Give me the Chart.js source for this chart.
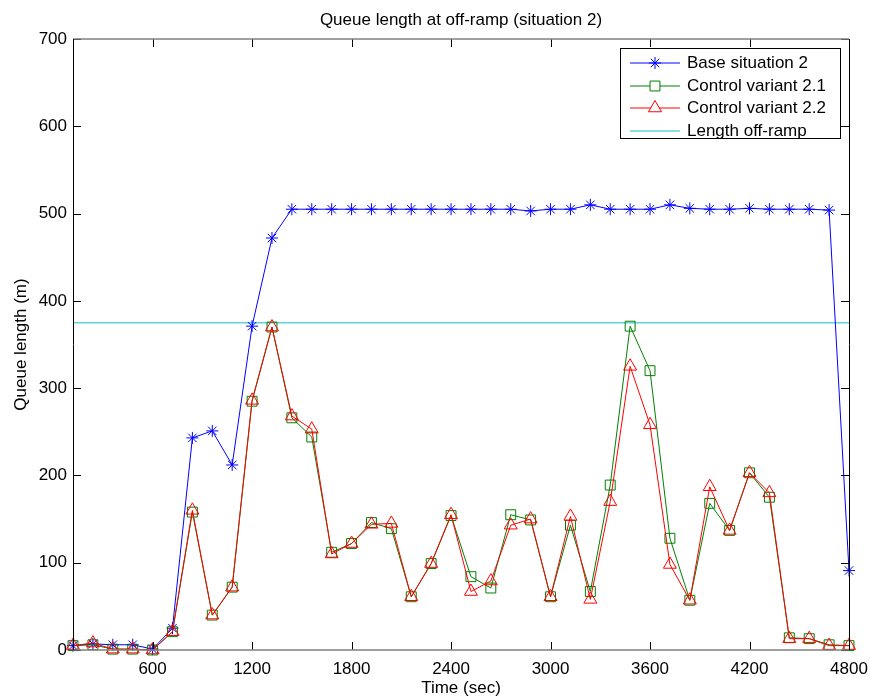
<!DOCTYPE html>
<html>
<head>
<meta charset="utf-8">
<title>Queue length at off-ramp (situation 2)</title>
<script src="https://cdn.jsdelivr.net/npm/chart.js@4/dist/chart.umd.min.js"></script>
<style>
  html, body { margin: 0; padding: 0; background: #fff; }
  #wrap { width: 870px; height: 698px; position: relative; }
</style>
</head>
<body>
<div id="wrap"><canvas id="queueChart"></canvas></div>
<script>
// Data (time in sec, queue length in m)
const times = [120, 240, 360, 480, 600, 720, 840, 960, 1080, 1200,
               1320, 1440, 1560, 1680, 1800, 1920, 2040, 2160, 2280, 2400,
               2520, 2640, 2760, 2880, 3000, 3120, 3240, 3360, 3480, 3600,
               3720, 3840, 3960, 4080, 4200, 4320, 4440, 4560, 4680, 4800];

const baseSituation = [5, 7, 6, 6, 1, 25, 243, 251, 212, 371,
                       472, 505, 505, 505, 505, 505, 505, 505, 505, 505,
                       505, 505, 505, 503, 505, 505, 510, 505, 505, 505,
                       510, 506, 505, 505, 506, 505, 505, 505, 504, 91];

const controlVariant21 = [5, 6, 1, 1, 0, 21, 158, 40, 72, 285,
                          370, 266, 244, 112, 122, 146, 139, 61, 99, 154,
                          84, 71, 155, 149, 61, 143, 67, 189, 371, 320,
                          128, 57, 168, 137, 203, 175, 14, 13, 6, 5];

const controlVariant22 = [5, 8, 1, 1, 0, 21, 160, 40, 72, 286,
                          370, 268, 253, 110, 122, 144, 145, 61, 99, 155,
                          67, 79, 143, 150, 61, 153, 58, 170, 325, 258,
                          98, 57, 187, 137, 203, 180, 13, 13, 5, 5];

const offRampLength = 375;

const seriesLabels = ['Base situation 2', 'Control variant 2.1', 'Control variant 2.2', 'Length off-ramp'];
const xTicks = [600, 1200, 1800, 2400, 3000, 3600, 4200, 4800];

const FONT = '"Liberation Sans", Arial, sans-serif';

function toPoints(values) {
    return values.map(function(v, i) { return { x: times[i], y: v }; });
}

// MATLAB-like box with inward ticks, titles and an in-axes legend
const matlabFrame = {
    id: 'matlabFrame',
    afterDraw: function(chart) {
        const ctx = chart.ctx;
        const a = chart.chartArea;
        const xs = chart.scales.x;
        const ys = chart.scales.y;
        const tl = 8;
        ctx.save();

        // tick marks
        ctx.lineWidth = 1;
        ctx.strokeStyle = '#000';
        ctx.beginPath();
        xs.ticks.forEach(function(t) {
            const px = Math.round(xs.getPixelForValue(t.value)) + 0.5;
            ctx.moveTo(px, a.bottom); ctx.lineTo(px, a.bottom - tl);
            ctx.moveTo(px, a.top); ctx.lineTo(px, a.top + tl);
        });
        ys.ticks.forEach(function(t) {
            const py = Math.round(ys.getPixelForValue(t.value)) + 0.5;
            ctx.moveTo(a.left, py); ctx.lineTo(a.left + tl, py);
            ctx.moveTo(a.right, py); ctx.lineTo(a.right - tl, py);
        });
        ctx.stroke();

        // box
        ctx.strokeStyle = '#808080';
        ctx.lineWidth = 1.5;
        ctx.beginPath();
        ctx.moveTo(a.left, a.top); ctx.lineTo(a.right, a.top);
        ctx.moveTo(a.left, a.bottom); ctx.lineTo(a.right, a.bottom);
        ctx.stroke();
        ctx.strokeStyle = '#000';
        ctx.lineWidth = 1;
        ctx.beginPath();
        ctx.moveTo(Math.round(a.left) + 0.5, a.top); ctx.lineTo(Math.round(a.left) + 0.5, a.bottom);
        ctx.moveTo(Math.round(a.right) + 0.5, a.top); ctx.lineTo(Math.round(a.right) + 0.5, a.bottom);
        ctx.stroke();

        // titles
        const cx = (a.left + a.right) / 2;
        ctx.fillStyle = '#000';
        ctx.font = '17px ' + FONT;
        ctx.textAlign = 'center';
        ctx.textBaseline = 'middle';
        ctx.fillText('Queue length at off-ramp (situation 2)', cx, 20);
        ctx.fillText('Time (sec)', cx, 688);
        ctx.save();
        ctx.translate(21, (a.top + a.bottom) / 2);
        ctx.rotate(-Math.PI / 2);
        ctx.fillText('Queue length (m)', 0, 0);
        ctx.restore();

        // legend
        const lx = 620.5, ly = 48.5, lw = 220, lh = 90;
        ctx.fillStyle = '#fff';
        ctx.fillRect(lx, ly, lw, lh);
        ctx.strokeStyle = '#000';
        ctx.lineWidth = 1;
        ctx.strokeRect(lx, ly, lw, lh);
        const rowY = [63, 86, 108, 131];
        chart.data.datasets.forEach(function(ds, i) {
            const y = rowY[i];
            ctx.strokeStyle = ds.borderColor;
            ctx.lineWidth = ds.borderWidth;
            ctx.beginPath();
            ctx.moveTo(630, y); ctx.lineTo(680, y);
            ctx.stroke();
            if (ds.pointStyle && ds.pointRadius > 0) {
                ctx.fillStyle = '#fff';
                ctx.lineWidth = 1;
                Chart.helpers.drawPoint(ctx, {
                    pointStyle: ds.pointStyle,
                    radius: ds.pointRadius,
                    borderWidth: 1,
                    rotation: 0
                }, 655, y);
            }
            ctx.fillStyle = '#000';
            ctx.textAlign = 'left';
            ctx.textBaseline = 'middle';
            ctx.font = '17px ' + FONT;
            ctx.fillText(ds.label, 687, y);
        });
        ctx.restore();
    }
};

document.addEventListener('DOMContentLoaded', function() {
    const ctx = document.getElementById('queueChart').getContext('2d');

    const data = {
        datasets: [{
            label: seriesLabels[0],
            data: toPoints(baseSituation),
            borderColor: '#0000ff',
            backgroundColor: 'rgba(0,0,0,0)',
            borderWidth: 1,
            pointStyle: 'star',
            pointRadius: 6,
            pointBorderWidth: 1,
            order: 3,
            clip: false
        }, {
            label: seriesLabels[1],
            data: toPoints(controlVariant21),
            borderColor: '#008000',
            backgroundColor: 'rgba(0,0,0,0)',
            borderWidth: 1,
            pointStyle: 'rect',
            pointRadius: 7,
            pointBorderWidth: 1,
            order: 2,
            clip: false
        }, {
            label: seriesLabels[2],
            data: toPoints(controlVariant22),
            borderColor: '#ff0000',
            backgroundColor: 'rgba(0,0,0,0)',
            borderWidth: 1,
            pointStyle: 'triangle',
            pointRadius: 7.5,
            pointBorderWidth: 1,
            order: 1,
            clip: false
        }, {
            label: seriesLabels[3],
            data: [{ x: times[0], y: offRampLength }, { x: times[times.length - 1], y: offRampLength }],
            borderColor: '#60d4d4',
            backgroundColor: 'rgba(0,0,0,0)',
            borderWidth: 1.5,
            pointRadius: 0,
            order: 4
        }]
    };

    new Chart(ctx, {
        type: 'line',
        data: data,
        options: {
            responsive: true,
            maintainAspectRatio: false,
            animation: false,
            layout: { padding: { top: 39, right: 21, left: 0, bottom: 0 } },
            plugins: {
                legend: { display: false },
                title: { display: false },
                tooltip: { enabled: false }
            },
            scales: {
                x: {
                    type: 'linear',
                    min: times[0],
                    max: times[times.length - 1],
                    afterBuildTicks: function(scale) {
                        scale.ticks = xTicks.map(function(v) { return { value: v }; });
                    },
                    afterFit: function(scale) {
                        scale.height = 48;
                        scale.paddingLeft = 0;
                        scale.paddingRight = 0;
                    },
                    grid: { display: false, drawTicks: false },
                    border: { display: false },
                    ticks: {
                        padding: 9,
                        color: '#000',
                        font: { size: 17, family: FONT },
                        maxRotation: 0,
                        autoSkip: false,
                        callback: function(value) { return String(value); }
                    }
                },
                y: {
                    min: 0,
                    max: 700,
                    afterFit: function(scale) {
                        scale.width = 73;
                        scale.paddingTop = 0;
                        scale.paddingBottom = 0;
                    },
                    grid: { display: false, drawTicks: false },
                    border: { display: false },
                    ticks: {
                        stepSize: 100,
                        padding: 6,
                        color: '#000',
                        font: { size: 17, family: FONT },
                        callback: function(value) { return String(value); }
                    }
                }
            }
        },
        plugins: [matlabFrame]
    });
});
</script>
</body>
</html>
